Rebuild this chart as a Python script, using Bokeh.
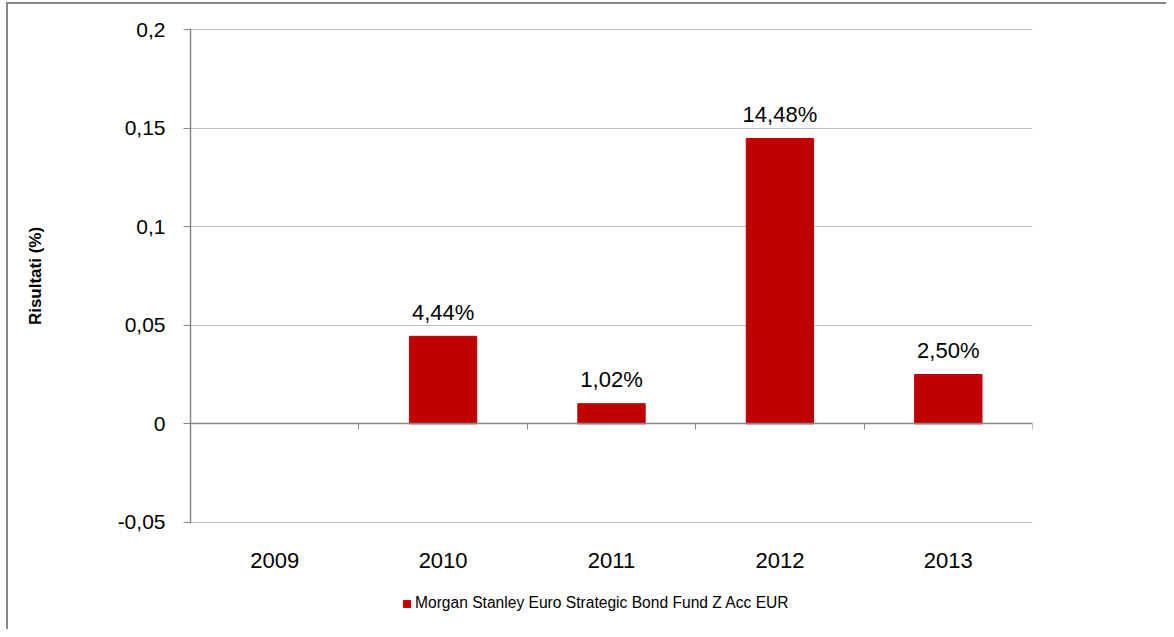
import math
from bokeh.plotting import figure
from bokeh.layouts import column
from bokeh.models import (Range1d, FixedTicker, CustomJSTickFormatter, LinearAxis,
                          ColumnDataSource, Legend, LegendItem)
from bokeh.core.properties import value
from bokeh.embed import file_html
from bokeh.resources import INLINE

# ---- data ----
years = ["2009", "2010", "2011", "2012", "2013"]
returns = [float("nan"), 0.0444, 0.0102, 0.1448, 0.0250]
y_ticks = [-0.05, 0.0, 0.05, 0.1, 0.15, 0.2]
series_name = "Morgan Stanley Euro Strategic Bond Fund Z Acc EUR"
y_title = "Risultati (%)"

FONT = "Liberation Sans"
AXIS_GRAY = "#868686"
BORDER_GRAY = "#878787"
GRID_GRAY = "#C0C0C0"
BAR_RED = "#C00000"

xc = [i + 0.5 for i in range(len(years))]
src = ColumnDataSource(dict(x=xc, top=returns))

lab_x = [xc[i] for i, v in enumerate(returns) if not math.isnan(v)]
lab_y = [v for v in returns if not math.isnan(v)]
lab_t = [f"{v*100:.2f}%".replace(".", ",") for v in lab_y]
lab_src = ColumnDataSource(dict(x=lab_x, y=lab_y, t=lab_t))

W = 1166
H1 = 580
H2 = 49

pad = 0.0006  # keep the edge gridlines inside the frame
p = figure(width=W, height=H1, output_backend="svg", toolbar_location=None,
           x_range=Range1d(0, len(years)),
           y_range=Range1d(y_ticks[0] - pad, y_ticks[-1] + pad),
           min_border_left=190, min_border_right=134, min_border_top=28,
           min_border_bottom=57)
p.outline_line_color = None
p.background_fill_color = "white"
p.border_fill_color = None
p.styles = {"box-shadow": f"inset 6px 2px 0 0 white, inset 8px 4px 0 0 {BORDER_GRAY}",
            "background-color": "white"}

bars = p.vbar(x="x", top="top", bottom=0, width=0.4, source=src,
              fill_color=BAR_RED, line_color=BAR_RED)

p.text(x="x", y="y", text="t", source=lab_src, text_align="center",
       text_baseline="alphabetic", y_offset=-24, text_font=value(FONT),
       text_font_size="22px", text_color="black")

# y axis
ya = p.yaxis[0]
ya.ticker = FixedTicker(ticks=y_ticks)
ya.formatter = CustomJSTickFormatter(code="return tick.toString().replace('.', ',');")
ya.axis_line_color = AXIS_GRAY
ya.axis_line_width = 1.5
ya.major_tick_line_color = AXIS_GRAY
ya.major_tick_out = 7
ya.major_tick_in = 0
ya.minor_tick_line_color = None
ya.major_label_text_font = FONT
ya.major_label_text_font_size = "21px"
ya.major_label_text_color = "black"
ya.major_label_standoff = 18
ya.axis_label = y_title
ya.axis_label_text_font = FONT
ya.axis_label_text_font_size = "17px"
ya.axis_label_text_font_style = "bold"
ya.axis_label_text_color = "black"
ya.axis_label_standoff = 70

# x axis with year labels (at bottom)
xa = p.xaxis[0]
xa.ticker = FixedTicker(ticks=xc)
xa.formatter = CustomJSTickFormatter(args=dict(years=years),
                                     code="return years[Math.floor(tick)];")
xa.axis_line_color = None
xa.major_tick_line_color = None
xa.minor_tick_line_color = None
xa.major_label_text_font = FONT
xa.major_label_text_font_size = "22px"
xa.major_label_text_color = "black"
xa.major_label_standoff = 23

# zero line axis with category boundary ticks
za = LinearAxis(fixed_location=0, ticker=FixedTicker(ticks=list(range(len(years) + 1))),
                formatter=CustomJSTickFormatter(code="return '';"))
za.axis_line_color = AXIS_GRAY
za.axis_line_width = 1.5
za.major_tick_line_color = AXIS_GRAY
za.major_tick_out = 6
za.major_tick_in = 0
za.minor_tick_line_color = None
za.major_label_standoff = 0
p.add_layout(za, "below")

p.xgrid.grid_line_color = None
p.ygrid.ticker = FixedTicker(ticks=y_ticks)
p.ygrid.grid_line_color = GRID_GRAY
p.ygrid.grid_line_width = 1

# ---- legend strip (frame aligned with the main plot's frame) ----
p2 = figure(width=W, height=H2, output_backend="svg", toolbar_location=None,
            x_range=Range1d(0, len(years)), y_range=Range1d(1, 2),
            x_axis_location=None, y_axis_location=None,
            min_border_left=0, min_border_right=0,
            min_border_top=0, min_border_bottom=0)
p2.grid.visible = False
p2.outline_line_color = None
p2.background_fill_color = None
p2.border_fill_color = None
p2.styles = {"box-shadow": f"inset 6px 0 0 0 white, inset 8px 0 0 0 {BORDER_GRAY}",
             "background-color": "white"}
# same series, kept out of the (empty) strip's visible range; only its legend swatch shows
swatch = p2.vbar(x="x", top="top", bottom=0, width=0.4, source=src,
                 fill_color=BAR_RED, line_color=BAR_RED)

legend = Legend(items=[LegendItem(label=series_name, renderers=[swatch])],
                location=(212, 17), orientation="horizontal",
                glyph_width=9, glyph_height=9, label_standoff=4,
                label_text_font=FONT, label_text_font_size="15.6px",
                label_text_color="black", border_line_color=None,
                background_fill_alpha=0, padding=0, margin=0, spacing=0)
p2.add_layout(legend, "center")

layout = column(p, p2, spacing=0)
open("out.html", "w").write(file_html(layout, INLINE))
